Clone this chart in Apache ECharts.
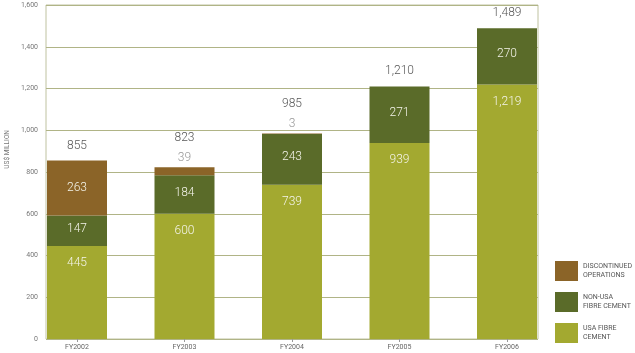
<!DOCTYPE html>
<html>
<head>
<meta charset="utf-8">
<script src="https://cdn.jsdelivr.net/npm/echarts@6/dist/echarts.min.js"></script>
<style>
  html, body { margin: 0; padding: 0; background: #fff; }
  #chart { width: 635px; height: 353px; }
</style>
</head>
<body>
<div id="chart"></div>
<script>
// data
const years = ["FY2002", "FY2003", "FY2004", "FY2005", "FY2006"];
const usaFibre = [445, 600, 739, 939, 1219];
const nonUsaFibre = [147, 184, 243, 271, 270];
const discontinued = [263, 39, 3, null, null];
const totals = [855, 823, 985, 1210, 1489];
const yTicks = [0, 200, 400, 600, 800, 1000, 1200, 1400, 1600];

const names = ["DISCONTINUED\nOPERATIONS", "NON-USA\nFIBRE CEMENT", "USA FIBRE\nCEMENT"];
const colors = { usa: "#a3a930", nonUsa: "#5a6b29", disc: "#8b6428" };
const font = "Roboto";

function fmt(v) {
    return Number(v).toLocaleString("en-US");
}

let dom = document.getElementById("chart");
let myChart = echarts.init(dom, null, { renderer: "canvas" });

let innerLabel = {
    show: true,
    color: "#f4f4ea",
    fontFamily: font,
    fontWeight: 300,
    fontSize: 12,
    formatter: (p) => fmt(p.value),
};

let option = {
    animation: false,
    textStyle: { fontFamily: font },
    grid: [
        // grid 0 holds the bars, wider so the bars sit flush with the frame
        { left: 23.25, right: 74.25, top: 5, bottom: 14 },
        // grid 1 draws the frame, gridlines and value axis
        { left: 46, right: 97, top: 5, bottom: 14, show: true, borderColor: "#bfc2a0", borderWidth: 1 },
    ],
    legend: {
        orient: "vertical",
        left: 550,
        top: 256,
        icon: "rect",
        itemWidth: 23,
        itemHeight: 20,
        itemGap: 11,
        itemStyle: { borderWidth: 0 },
        data: names,
        textStyle: { fontSize: 7, lineHeight: 9, color: "#555", fontFamily: font },
    },
    graphic: [{
        type: "text",
        left: 4,
        top: 130,
        rotation: Math.PI / 2,
        style: { text: "US$ MILLION", fontSize: 6.5, fill: "#777", fontFamily: font },
    }],
    xAxis: [{
        type: "category",
        gridIndex: 0,
        data: years,
        axisLine: { show: false },
        axisTick: { show: true, alignWithLabel: true, length: 3, lineStyle: { color: "#999" } },
        axisLabel: { fontSize: 7, color: "#666", margin: 5 },
    }, {
        type: "value",
        gridIndex: 1,
        show: false,
    }],
    yAxis: [{
        type: "value",
        gridIndex: 0,
        min: 0,
        max: 1600,
        show: false,
    }, {
        type: "value",
        gridIndex: 1,
        min: 0,
        max: 1600,
        interval: 200,
        axisLine: { show: false },
        axisTick: { show: false },
        axisLabel: { fontSize: 7, color: "#777", margin: 8, formatter: (v) => yTicks.includes(v) ? fmt(v) : "" },
        splitLine: { lineStyle: { color: "#b0b486", width: 1 } },
    }],
    series: [{
        name: names[2],
        type: "bar",
        stack: "total",
        barWidth: 60,
        xAxisIndex: 0,
        yAxisIndex: 0,
        itemStyle: { color: colors.usa },
        label: Object.assign({}, innerLabel, { position: "insideTop", distance: 11 }),
        data: usaFibre,
    }, {
        name: names[1],
        type: "bar",
        stack: "total",
        barWidth: 60,
        xAxisIndex: 0,
        yAxisIndex: 0,
        itemStyle: { color: colors.nonUsa },
        label: Object.assign({}, innerLabel, { position: "inside", offset: [0, -2] }),
        data: nonUsaFibre,
    }, {
        name: names[0],
        type: "bar",
        stack: "total",
        barWidth: 60,
        xAxisIndex: 0,
        yAxisIndex: 0,
        itemStyle: { color: colors.disc },
        label: Object.assign({}, innerLabel, { position: "inside" }),
        data: discontinued.map((v) => {
            if (v !== null && v < 50) {
                return { value: v, label: { position: "top", distance: 3, color: "#999" } };
            }
            return v;
        }),
    }, {
        name: "total",
        type: "scatter",
        xAxisIndex: 0,
        yAxisIndex: 0,
        symbolSize: 0,
        silent: true,
        label: {
            show: true,
            position: "top",
            color: "#2a2a2a",
            fontFamily: font,
            fontWeight: 300,
            fontSize: 12,
            formatter: (p) => fmt(p.value),
        },
        data: totals.map((v, i) => {
            let small = discontinued[i] !== null && discontinued[i] < 50;
            return { value: v, label: { distance: small ? 23 : 9 } };
        }),
    }],
};

myChart.setOption(option);
window.addEventListener("resize", myChart.resize);
</script>
</body>
</html>
